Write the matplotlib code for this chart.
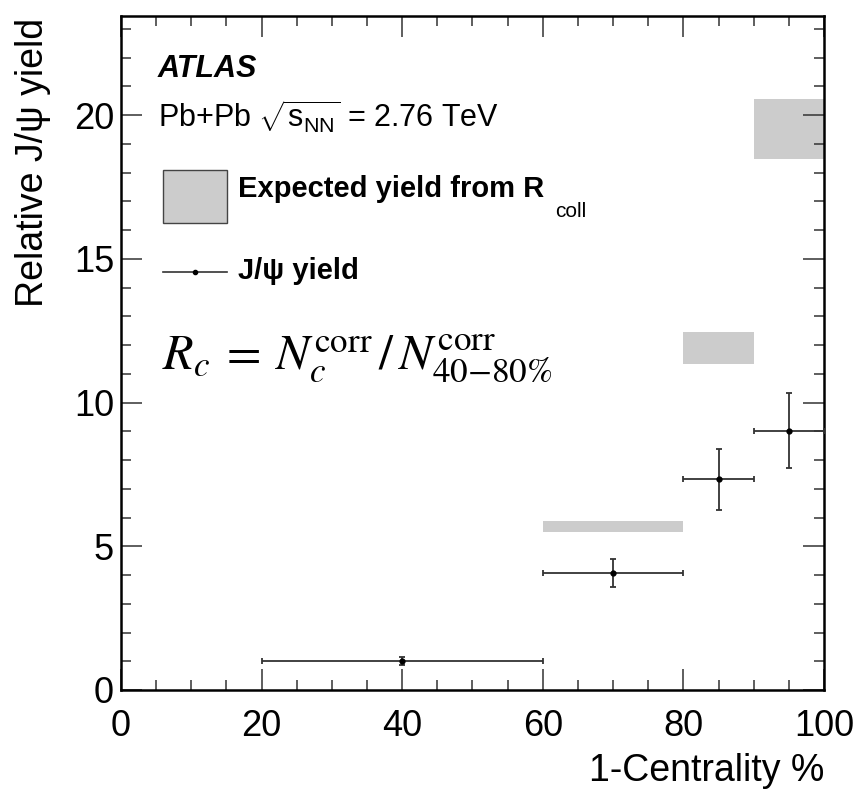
import matplotlib
matplotlib.use("Agg")
import matplotlib.pyplot as plt
from matplotlib.patches import Rectangle
from matplotlib.lines import Line2D
from matplotlib.ticker import MultipleLocator

plt.rcParams['font.family'] = ['Liberation Sans', 'DejaVu Sans']
plt.rcParams['mathtext.fontset'] = 'custom'
plt.rcParams['mathtext.rm'] = 'Liberation Sans'
plt.rcParams['mathtext.it'] = 'Liberation Sans:italic'
plt.rcParams['mathtext.bf'] = 'Liberation Sans:bold'

# J/psi relative yield per centrality bin (1-centrality %)
bin_lo = [20, 60, 80, 90]
bin_hi = [60, 80, 90, 100]
bin_center = [40, 70, 85, 95]
yield_val = [1.0, 4.07, 7.33, 9.02]
yield_err = [0.14, 0.50, 1.06, 1.31]

# expected yield from R_coll (bands, shown only for the three most central bins)
rcoll_lo = [60, 80, 90]
rcoll_hi = [80, 90, 100]
rcoll_low = [5.50, 11.35, 18.46]
rcoll_high = [5.87, 12.46, 20.56]

fig = plt.figure(figsize=(8.61, 7.9), dpi=100)
ax = fig.add_axes([0.1405, 0.1266, 0.8165, 0.8531])

band_color = '#cccccc'
ax.bar(rcoll_lo, [h - l for h, l in zip(rcoll_high, rcoll_low)],
       width=[b - a for a, b in zip(rcoll_lo, rcoll_hi)], bottom=rcoll_low,
       align='edge', color=band_color, edgecolor='none', zorder=1)

xerr_lo = [c - a for a, c in zip(bin_lo, bin_center)]
xerr_hi = [b - c for b, c in zip(bin_hi, bin_center)]
ax.errorbar(bin_center, yield_val, xerr=[xerr_lo, xerr_hi], yerr=yield_err,
            fmt='o', ms=3.5, color='black', ecolor='#333333', elinewidth=1.3,
            capsize=2.5, capthick=1.3, zorder=3, clip_on=False)

ax.set_xlim(0, 100)
ax.set_ylim(0, 23.45)

ax.xaxis.set_major_locator(MultipleLocator(20))
ax.xaxis.set_minor_locator(MultipleLocator(5))
ax.yaxis.set_major_locator(MultipleLocator(5))
ax.yaxis.set_minor_locator(MultipleLocator(1))
ax.tick_params(which='both', direction='in', top=True, right=True,
               color='#333333', width=1.1)
ax.tick_params(which='major', length=15, labelsize=26)
ax.tick_params(which='minor', length=7.5)
ax.tick_params(axis='x', which='major', pad=14)
ax.tick_params(axis='y', which='major', pad=5)
for s in ax.spines.values():
    s.set_linewidth(1.8)

ax.set_xlabel('1-Centrality %', fontsize=27, loc='right')
ax.xaxis.set_label_coords(1.0, -0.093)
ax.set_ylabel('Relative J/ψ yield', fontsize=27, loc='top')
ax.yaxis.set_label_coords(-0.10, 0.997)

T = ax.transAxes
ax.text(0.0526, 0.9095, 'ATLAS', transform=T, fontsize=22,
        fontweight='bold', fontstyle='italic', va='baseline')
ax.text(0.0526, 0.835, r'Pb+Pb $\sqrt{\mathrm{s}_{\mathrm{NN}}}$ = 2.76 TeV',
        transform=T, fontsize=22, va='baseline')

# legend
ax.add_patch(Rectangle((0.0597, 0.6929), 0.0911, 0.0786, transform=T,
                       facecolor=band_color, edgecolor='#444444', lw=1.0))
ax.text(0.1664, 0.7315, 'Expected yield from R', transform=T, fontsize=21,
        fontweight='bold', va='baseline')
ax.text(0.617, 0.7018, 'coll', transform=T, fontsize=15, va='baseline')
ax.add_line(Line2D([0.0597, 0.1508], [0.6202, 0.6202], transform=T,
                   color='#333333', lw=1.2))
ax.add_line(Line2D([0.1052], [0.6202], transform=T, marker='o', ms=3,
                   color='black'))
ax.text(0.1664, 0.6098, 'J/ψ yield', transform=T, fontsize=21,
        fontweight='bold', va='baseline')

ax.text(0.0583, 0.4748,
        r'$R_c\:=\:N_c^{\mathrm{corr}}\,/\,N_{\mathrm{40{-}80\%}}^{\mathrm{corr}}$',
        transform=T, fontsize=36, va='baseline', math_fontfamily='stix')

fig.savefig('out.png', dpi=100)
